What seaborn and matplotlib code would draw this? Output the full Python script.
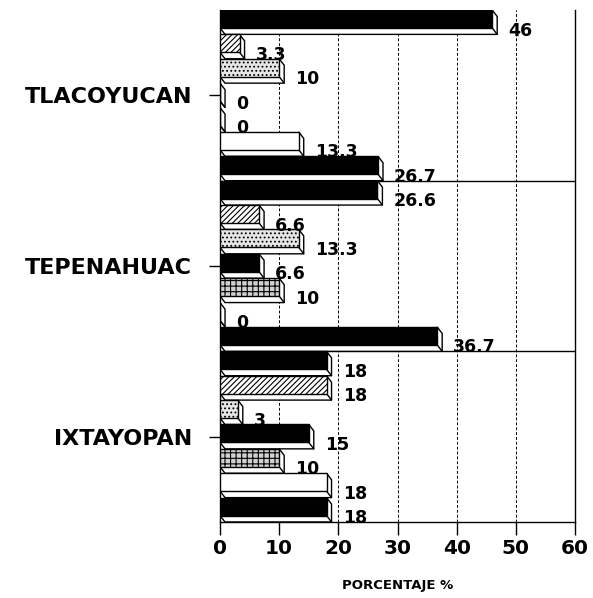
import numpy as np
import pandas as pd
import matplotlib
matplotlib.use("Agg")
import matplotlib.pyplot as plt
import seaborn as sns
from matplotlib.patches import Polygon

# ---------- data ----------
groups = ["TLACOYUCAN", "TEPENAHUAC", "IXTAYOPAN"]
series = ["S1", "S2", "S3", "S4", "S5", "S6", "S7"]

s1 = [46, 26.6, 18]
s2 = [3.3, 6.6, 18]
s3 = [10, 13.3, 3]
s4 = [0, 6.6, 15]
s5 = [0, 10, 10]
s6 = [13.3, 0, 18]
s7 = [26.7, 36.7, 18]
values = [s1, s2, s3, s4, s5, s6, s7]

x_ticks = [0, 10, 20, 30, 40, 50, 60]

rows = []
for name, vals in zip(series, values):
    for g, v in zip(groups, vals):
        rows.append({"grupo": g, "serie": name, "valor": v})
df = pd.DataFrame(rows)

# ---------- style ----------
faces = ["black", "white", "#e6e6e6", "black", "#d0d0d0", "white", "black"]
hatches = [None, "//////", "....", None, "+++", None, None]

sns.set_style("ticks")
plt.rcParams["font.family"] = ["DejaVu Sans"]
plt.rcParams["font.weight"] = "bold"
plt.rcParams["hatch.linewidth"] = 0.8
plt.rcParams["text.color"] = "black"
plt.rcParams["axes.labelcolor"] = "black"
plt.rcParams["xtick.color"] = "black"
plt.rcParams["ytick.color"] = "black"

fig = plt.figure(figsize=(5.93, 5.98), dpi=100)
ax = fig.add_axes([220 / 593, 1 - 522 / 598, 355 / 593, 512 / 598])

sns.barplot(data=df, y="grupo", x="valor", hue="serie", order=groups,
            hue_order=series, orient="h", width=1.0, dodge=True,
            palette=faces, saturation=1, edgecolor="black", linewidth=1,
            legend=False, ax=ax, zorder=3)

# fake 3D depth (right / down)
dx = 0.85
dy = 0.038
for i, cont in enumerate(ax.containers):
    for bar, v in zip(cont, values[i]):
        y0 = bar.get_y()
        h = bar.get_height()
        w = bar.get_width()
        bar.set_height(h - dy)
        if hatches[i]:
            bar.set_hatch(hatches[i])
        ytop, ybot = y0, y0 + h - dy
        side = Polygon([(0, ybot), (dx, ybot + dy), (w + dx, ybot + dy),
                        (w + dx, ytop + dy), (w, ytop), (w, ybot)],
                       closed=True, fc="white", ec="black", lw=1, zorder=2.5)
        ax.add_patch(side)
        ax.plot([w, w + dx], [ybot, ybot + dy], color="black", lw=1, zorder=2.6)
        ax.annotate(f"{v:g}", xy=(w + dx, y0 + h / 2), xytext=(8, -6),
                    textcoords="offset points", ha="left", va="center",
                    fontsize=12.5, fontweight="bold", color="black", zorder=4)

# ---------- axes ----------
ax.set_xlim(0, 60)
ax.set_ylim(2.5, -0.5)
ax.set_xticks(x_ticks)
for xv in x_ticks[1:-1]:
    ax.axvline(xv, color="black", lw=0.7, ls=(0, (3, 2)), zorder=1)
for yv in [0.5, 1.5]:
    ax.axhline(yv, color="black", lw=1, zorder=1)

ax.spines["top"].set_visible(False)
for sp in ["left", "right", "bottom"]:
    ax.spines[sp].set_linewidth(1)
    ax.spines[sp].set_color("black")

ax.tick_params(axis="x", length=9, width=1, pad=3, labelsize=14.5)
ax.tick_params(axis="y", length=8, width=1, pad=12, labelsize=16)
ax.set_ylabel("")
ax.set_xlabel("PORCENTAJE %", fontsize=9.5, fontweight="bold", labelpad=15)

fig.savefig("out.png", dpi=100)
